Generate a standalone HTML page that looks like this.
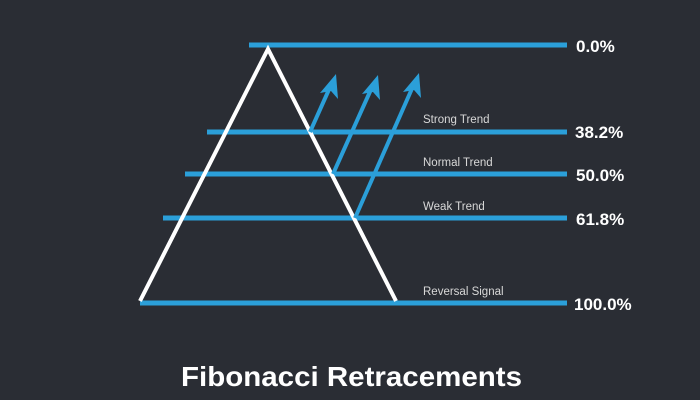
<!DOCTYPE html>
<html><head><meta charset="utf-8"><style>
html,body{margin:0;padding:0;background:#2a2d34;}
svg{display:block}
</style></head><body>
<svg width="700" height="400" viewBox="0 0 700 400" xmlns="http://www.w3.org/2000/svg">
<rect width="700" height="400" fill="#2a2d34"/>
<g stroke="#2b9fd9" stroke-width="5">
<line x1="249" y1="45" x2="567" y2="45"/>
<line x1="207" y1="132" x2="567" y2="132"/>
<line x1="185" y1="174" x2="567" y2="174"/>
<line x1="163" y1="218" x2="567" y2="218"/>
<line x1="140" y1="303" x2="567" y2="303"/>
</g>
<polyline points="140,301 268,49 396,301" fill="none" stroke="#ffffff" stroke-width="4" stroke-linejoin="miter"/>
<g stroke="#2b9fd9" stroke-width="4" fill="#2b9fd9">
<line x1="310" y1="132" x2="331" y2="85"/>
<line x1="333" y1="174" x2="373" y2="85"/>
<line x1="355" y1="218" x2="414" y2="84"/>
</g>
<g fill="#2b9fd9">
<polygon points="336,74 338,99 331,91 320,93"/>
<polygon points="378,75 380,100 373,92 362,94"/>
<polygon points="419,73 421,98 414,90 403,92"/>
</g>
<g font-family="Liberation Sans, sans-serif" font-size="11.5" fill="#d8d8d8">
<text x="423" y="123">Strong Trend</text>
<text x="423" y="166">Normal Trend</text>
<text x="423" y="210">Weak Trend</text>
<text x="423" y="295">Reversal Signal</text>
</g>
<g font-family="Liberation Sans, sans-serif" font-size="17" font-weight="bold" fill="#ffffff">
<text x="576" y="52">0.0%</text>
<text x="575" y="138">38.2%</text>
<text x="576" y="181">50.0%</text>
<text x="576" y="225">61.8%</text>
<text x="574" y="310">100.0%</text>
</g>
<text x="181" y="386" font-family="Liberation Sans, sans-serif" font-size="28" font-weight="bold" fill="#ffffff" textLength="341" lengthAdjust="spacingAndGlyphs">Fibonacci Retracements</text>
</svg>
</body></html>
